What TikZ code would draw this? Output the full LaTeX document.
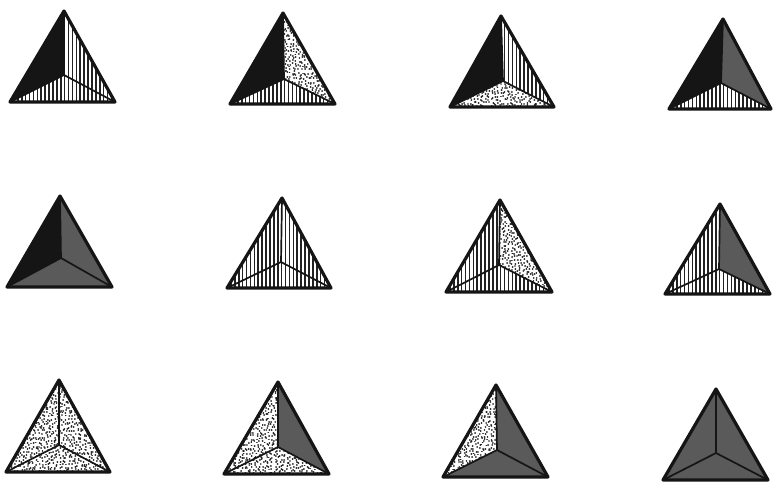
\documentclass[tikz,border=0pt]{standalone}
\definecolor{inkblack}{HTML}{151515}
\definecolor{inkgray}{HTML}{5A5A5A}
\definecolor{hatchink}{HTML}{222222}
\tikzset{
  outeredge/.style={draw=inkblack,line width=3.2pt,line join=round},
  inneredge/.style={draw=inkblack,line width=1.7pt},
  hatchline/.style={draw=hatchink,line width=1.6pt},
  stipple/.style={draw=hatchink,line width=1.9pt,line cap=round}
}
% face painters, drawn inside a clip; they use \lx \ay \by
\newcommand{\facek}{\fill[inkblack] (\lx-2,\ay-2) rectangle (\lx+112,\by+2);}
\newcommand{\faceg}{\fill[inkgray] (\lx-2,\ay-2) rectangle (\lx+112,\by+2);}
\newcommand{\faceh}{\foreach \i in {0,...,28}{\draw[hatchline] (\lx+\i*3.9,\ay) -- (\lx+\i*3.9,\by);}}
\newcommand{\faced}{\foreach \j in {0,...,32}{\draw[stipple] \foreach \i in {0,...,36}{ ({\lx+\i*3+rand*1.4},{\ay+\j*3+rand*1.4}) -- ++(0.01,0) };}}
\begin{document}
\begin{tikzpicture}[x=1pt,y=-1pt]
\useasboundingbox (0,0) rectangle (774,482);
\fill[white] (0,0) rectangle (774,482);
\pgfmathsetseed{4217}
\foreach \ax/\ay/\lx/\rx/\by/\cx/\cy/\fl/\fr/\fb in {
  64/11/10/115/102/64/75/k/h/h,
  283/13/230/335/104/284/79/k/d/h,
  501/16/450/554/107/503/81/k/h/d,
  723/19/669/771/109/721/83/k/g/h,
  60/196/7/112/287/61/258/k/g/g,
  282/198/227/331/288/281/262/h/h/h,
  500/200/446/552/292/499/265/h/d/h,
  720/204/665/770/294/719/269/h/g/h,
  59/380/6/110/472/59/445/d/d/d,
  278/382/224/329/474/278/447/d/g/d,
  496/385/443/548/477/497/450/d/g/g,
  716/389/663/768/480/716/453/g/g/g}{
  \coordinate (apex) at (\ax,\ay);
  \coordinate (lft) at (\lx,\by);
  \coordinate (rgt) at (\rx,\by);
  \coordinate (mid) at (\cx,\cy);
  \begin{scope}\clip (apex) -- (lft) -- (mid) -- cycle; \csname face\fl\endcsname \end{scope}
  \begin{scope}\clip (apex) -- (rgt) -- (mid) -- cycle; \csname face\fr\endcsname \end{scope}
  \begin{scope}\clip (lft) -- (rgt) -- (mid) -- cycle; \csname face\fb\endcsname \end{scope}
  \draw[inneredge] (apex) -- (mid);
  \draw[inneredge] (lft) -- (mid);
  \draw[inneredge] (rgt) -- (mid);
  \draw[outeredge] (apex) -- (lft) -- (rgt) -- cycle;
}
\end{tikzpicture}
\end{document}
